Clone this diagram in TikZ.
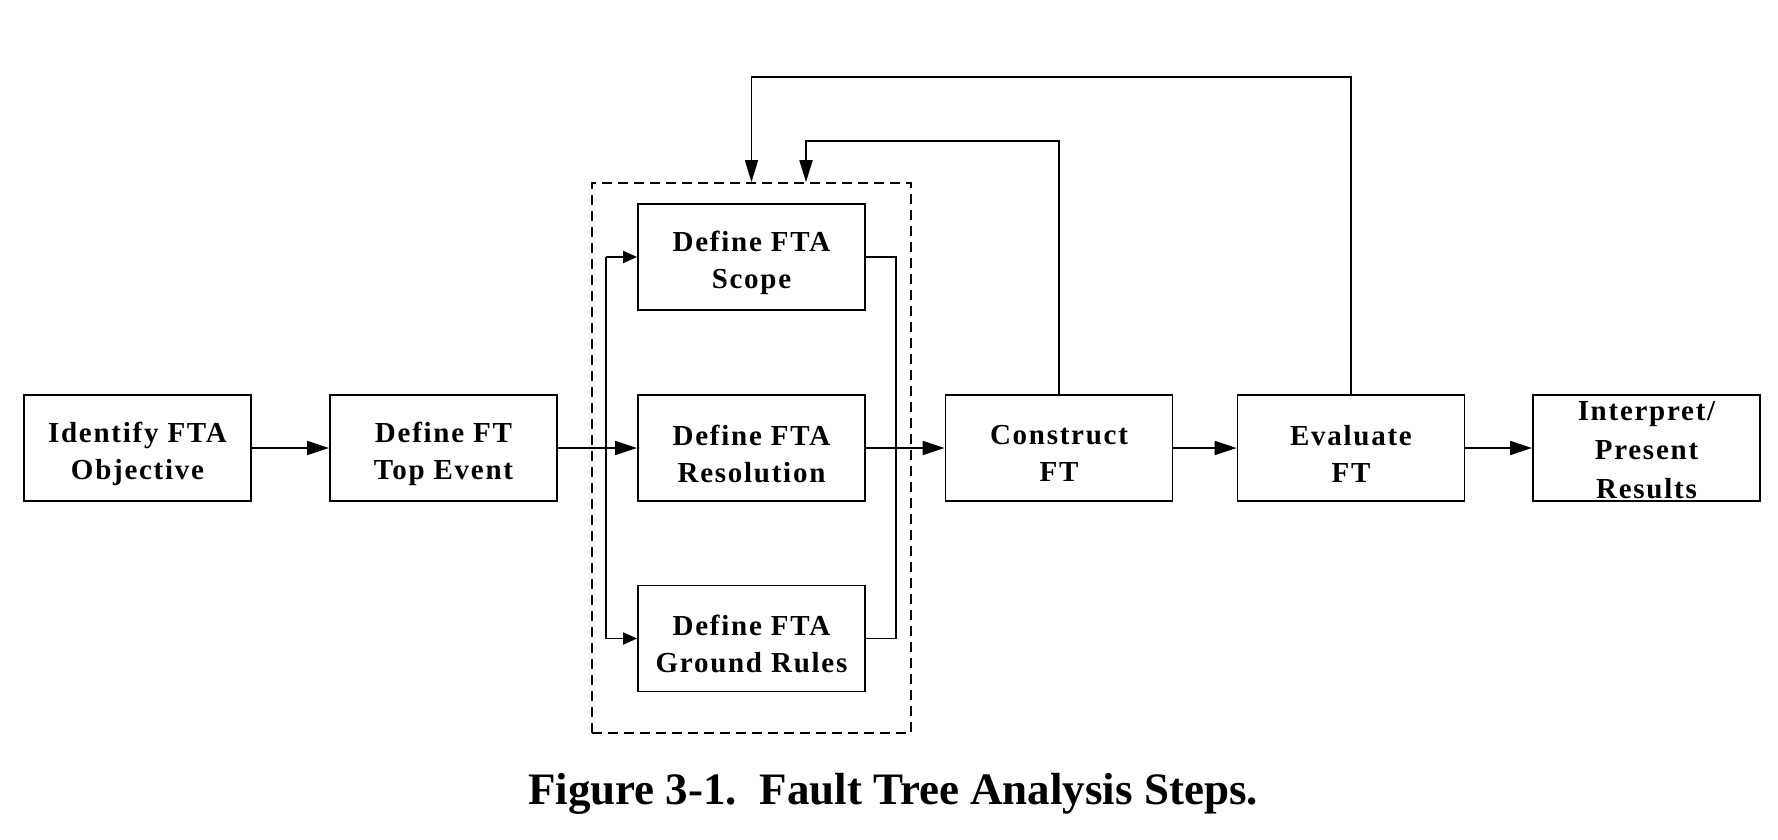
\documentclass[tikz,border=0pt]{standalone}
\usepackage{fontspec}
\setmainfont{Liberation Serif}
\newfontfamily\boxfont[LetterSpace=6]{Liberation Serif}
\usetikzlibrary{arrows.meta}
\begin{document}
\begin{tikzpicture}[x=0.5pt,y=-0.5pt,
  line width=0.9pt,
  stepbox/.style={draw, line width=0.9pt, minimum width=113.5pt, minimum height=53pt,
    inner sep=0pt},
  txt/.style={inner sep=0pt, align=center, font=\boxfont\bfseries\fontsize{14.5}{18.5}\selectfont},
  txtthree/.style={inner sep=0pt, align=center, font=\boxfont\bfseries\fontsize{14.5}{19.5}\selectfont},
  grpbox/.style={draw, dashed, dash pattern=on 5pt off 3pt, line width=0.8pt,
    minimum width=159.5pt, minimum height=275pt, inner sep=0pt},
  arr/.style={-{Triangle[length=11pt,width=7pt]}},
  sarr/.style={-{Triangle[length=7pt,width=6pt]}},
  tarr/.style={-{Triangle[length=11pt,width=6.5pt]}},
  captionstyle/.style={font=\bfseries\fontsize{22.5}{27}\selectfont, anchor=base, inner sep=0pt}
]
\useasboundingbox (0,0) rectangle (1778,840);
% dashed group
\node[grpbox] (grp) at (751.5,458) {};
% boxes
\node[stepbox] (id)  at (137.5,448) {};
\node[stepbox] (dft) at (443.5,448) {};
\node[stepbox] (scope) at (751.5,257) {};
\node[stepbox] (res) at (751.5,448) {};
\node[stepbox] (ground) at (751.5,638.5) {};
\node[stepbox] (con) at (1059,448) {};
\node[stepbox] (eva) at (1351,448) {};
\node[stepbox] (int) at (1646.5,448) {};
% texts
\node[txt] (idT) at ([yshift=-2.75pt]id.center) {Identify FTA\\Objective};
\node[txt] (dftT) at ([yshift=-2.75pt]dft.center) {Define FT\\Top Event};
\node[txt] (scopeT) at ([yshift=-2.75pt]scope.center) {Define FTA\\Scope};
\node[txt] (resT) at ([yshift=-2.75pt]res.center) {Define FTA\\Resolution};
\node[txt] (groundT) at ([yshift=-2.75pt]ground.center) {Define FTA\\Ground Rules};
\node[txt] (conT) at ([yshift=-2.75pt]con.center) {Construct\\FT};
\node[txt] (evaT) at ([yshift=-2.75pt]eva.center) {Evaluate\\FT};
\node[txtthree] (intT) at ([yshift=-1.25pt]int.center) {Interpret/\\Present\\Results};
% bus coordinates
\coordinate (busL) at (606,448);
\coordinate (busR) at (896,448);
\coordinate (fb1) at (806,141);
\coordinate (fb2) at (751.5,77);
% main flow
\draw[arr] (id) -- (dft);
\draw[arr] (dft) -- (res);
\draw (busL |- scope.west) -- (busL |- ground.west);
\draw[sarr] (busL |- scope.west) -- (scope.west);
\draw[sarr] (busL |- ground.west) -- (ground.west);
\draw (scope.east) -- (scope.east -| busR) -- (ground.east -| busR) -- (ground.east);
\draw[arr] (res) -- (con);
\draw[arr] (con) -- (eva);
\draw[arr] (eva) -- (int);
% feedback
\draw[tarr] (con.north) |- (fb1) -- (fb1 |- grp.north);
\draw[tarr] (eva.north) |- (fb2) -- (fb2 |- grp.north);
% caption
\node[captionstyle] (cap) at (893,804) {Figure 3-1.\ \ Fault Tree Analysis Steps.};
\end{tikzpicture}
\end{document}
